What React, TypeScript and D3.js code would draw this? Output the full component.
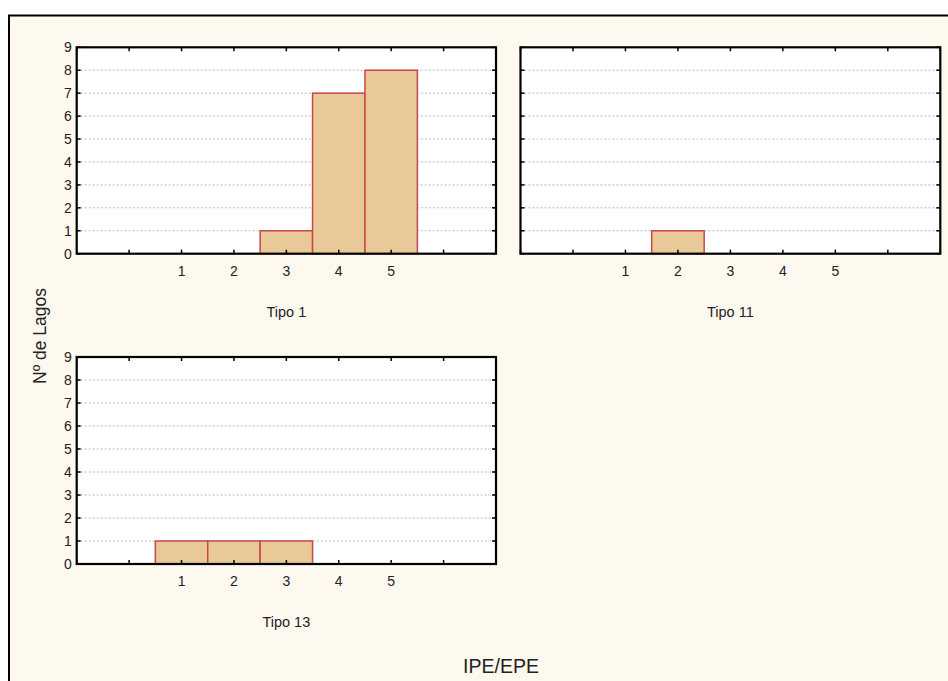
import React from "react";
import * as d3 from "d3";

const categories = [1, 2, 3, 4, 5];
const tipo1 = [0, 0, 1, 7, 8];
const tipo11 = [0, 1, 0, 0, 0];
const tipo13 = [1, 1, 1, 0, 0];
const panelTitles = ["Tipo 1", "Tipo 11", "Tipo 13"];
const yTicks = [0, 1, 2, 3, 4, 5, 6, 7, 8, 9];
const xTickPositions = [-1, 0, 1, 2, 3, 4, 5, 6, 7];

const W = 948;
const H = 681;
const FONT = "Liberation Sans, Arial, sans-serif";

type PanelProps = {
  x0: number;
  y0: number;
  w: number;
  h: number;
  values: number[];
  title: string;
  showYLabels: boolean;
};

function Panel({ x0, y0, w, h, values, title, showYLabels }: PanelProps) {
  const x = d3.scaleLinear().domain([-1, 7]).range([x0, x0 + w]);
  const y = d3.scaleLinear().domain([0, 9]).range([y0 + h, y0]);
  const tl = 4;
  return (
    <g>
      <rect x={x0} y={y0} width={w} height={h} fill="#ffffff" />
      {yTicks
        .filter((t) => t > 0 && t < 9)
        .map((t) => (
          <line
            key={"g" + t}
            x1={x0}
            x2={x0 + w}
            y1={y(t)}
            y2={y(t)}
            stroke="#b8b8b8"
            strokeWidth={1}
            strokeDasharray="2,2"
          />
        ))}
      {categories.map((c, i) => {
        const v = values[i];
        return (
          <rect
            key={"b" + c}
            x={x(c - 0.5)}
            y={y(v)}
            width={x(c + 0.5) - x(c - 0.5)}
            height={y(0) - y(v)}
            fill="#E8C997"
            stroke="#C8474C"
            strokeWidth={1.5}
          />
        );
      })}
      {yTicks.map((t) => (
        <g key={"yt" + t}>
          <line x1={x0} x2={x0 + tl} y1={y(t)} y2={y(t)} stroke="#000" strokeWidth={1.5} />
          <line x1={x0 + w - tl} x2={x0 + w} y1={y(t)} y2={y(t)} stroke="#000" strokeWidth={1.5} />
          {showYLabels && (
            <text
              x={x0 - 5}
              y={y(t)}
              dy="0.36em"
              textAnchor="end"
              fontSize={14}
              fontFamily={FONT}
              fill="#222"
            >
              {t}
            </text>
          )}
        </g>
      ))}
      {xTickPositions.map((t) => (
        <g key={"xt" + t}>
          <line x1={x(t)} x2={x(t)} y1={y0 + h} y2={y0 + h - tl} stroke="#000" strokeWidth={1.5} />
          <line x1={x(t)} x2={x(t)} y1={y0} y2={y0 + tl} stroke="#000" strokeWidth={1.5} />
        </g>
      ))}
      {categories.map((c) => (
        <text
          key={"xl" + c}
          x={x(c)}
          y={y0 + h + 22}
          textAnchor="middle"
          fontSize={14}
          fontFamily={FONT}
          fill="#222"
        >
          {c}
        </text>
      ))}
      <rect x={x0} y={y0} width={w} height={h} fill="none" stroke="#000" strokeWidth={2.2} />
      <text
        x={x0 + w / 2}
        y={y0 + h + 63}
        textAnchor="middle"
        fontSize={14.5}
        fontFamily={FONT}
        fill="#222"
      >
        {title}
      </text>
    </g>
  );
}

export default function App() {
  return (
    <svg
      width={W}
      height={H}
      style={{ position: "absolute", left: 0, top: 0, background: "#ffffff" }}
    >
      <rect x={9} y={15.5} width={960} height={700} fill="#FEF9EE" stroke="#000" strokeWidth={2} />
      <Panel x0={76.7} y0={47.3} w={419.3} h={206.4} values={tipo1} title={panelTitles[0]} showYLabels={true} />
      <Panel x0={520.5} y0={47.3} w={419.8} h={206.4} values={tipo11} title={panelTitles[1]} showYLabels={false} />
      <Panel x0={76.7} y0={357} w={419.3} h={207} values={tipo13} title={panelTitles[2]} showYLabels={true} />
      <text
        transform={`translate(46,336) rotate(-90)`}
        textAnchor="middle"
        fontSize={17.5}
        fontFamily={FONT}
        fill="#222"
      >
        Nº de Lagos
      </text>
      <text x={501} y={673} textAnchor="middle" fontSize={19.5} fontFamily={FONT} fill="#222">
        IPE/EPE
      </text>
    </svg>
  );
}
